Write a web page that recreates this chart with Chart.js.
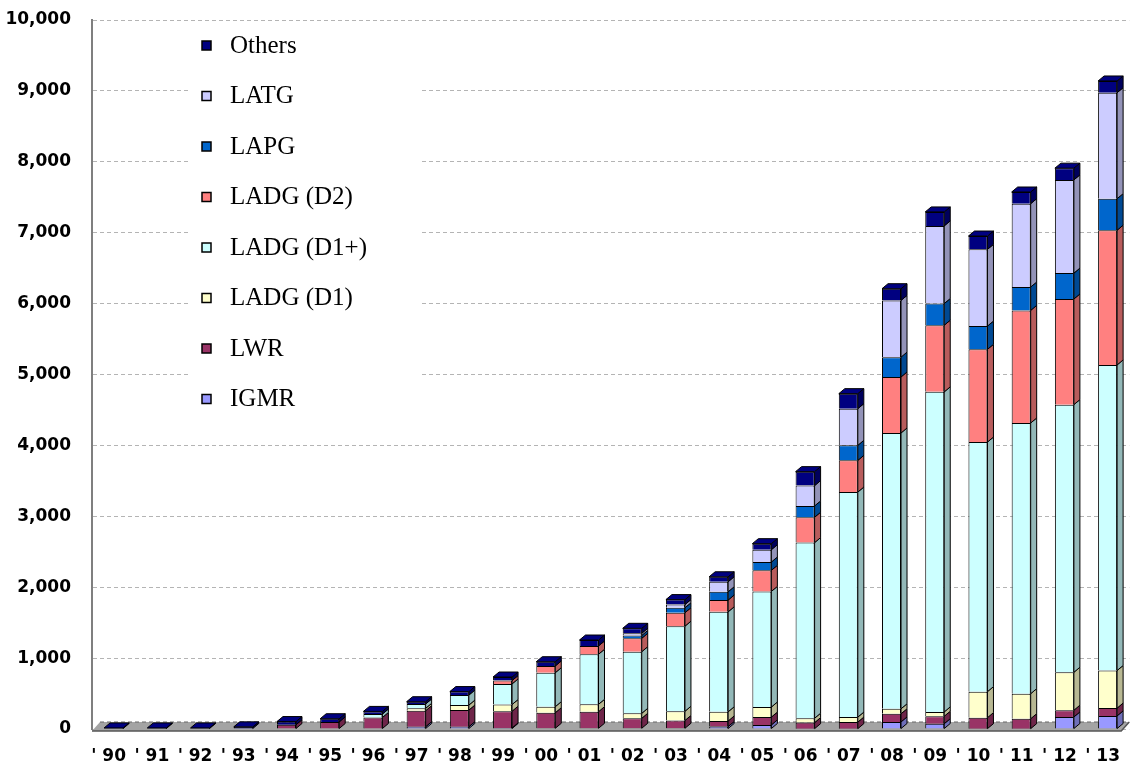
<!DOCTYPE html>
<html>
<head>
<meta charset="utf-8">
<script src="https://cdn.jsdelivr.net/npm/chart.js@4.4.1/dist/chart.umd.min.js"></script>
<style>
  html, body { margin: 0; padding: 0; background: #fff; }
  canvas { display: block; }
</style>
</head>
<body>
<canvas id="chart" width="1134" height="767"></canvas>
<script>
// Fiscal years, '90 through '13
const years = ["' 90","' 91","' 92","' 93","' 94","' 95","' 96","' 97","' 98","' 99",
               "' 00","' 01","' 02","' 03","' 04","' 05","' 06","' 07","' 08","' 09",
               "' 10","' 11","' 12","' 13"];

// Stacked series, bottom to top
const igmr    = [0, 0, 0, 0, 0, 0, 0, 32, 32, 15, 10, 10, 10, 10, 35, 58, 5, 5, 100, 75, 5, 5, 170, 185];
const lwr     = [0, 0, 0, 0, 60, 100, 163, 226, 235, 236, 220, 234, 141, 110, 78, 110, 85, 93, 115, 105, 155, 140, 95, 110];
const ladgD1  = [0, 0, 0, 0, 0, 0, 0, 34, 70, 94, 85, 104, 70, 130, 130, 142, 62, 70, 70, 61, 367, 353, 535, 530];
const ladgD1p = [0, 0, 0, 0, 0, 0, 48, 61, 141, 291, 479, 706, 869, 1200, 1410, 1631, 2477, 3174, 3890, 4514, 3520, 3818, 3775, 4310];
const ladgD2  = [0, 0, 0, 0, 0, 0, 0, 0, 0, 47, 95, 117, 189, 190, 166, 297, 358, 447, 790, 940, 1308, 1588, 1490, 1900];
const lapg    = [0, 0, 0, 0, 0, 0, 0, 0, 0, 0, 0, 0, 40, 70, 117, 117, 159, 212, 280, 306, 328, 330, 365, 445];
const latg    = [0, 0, 0, 0, 0, 0, 0, 0, 0, 0, 0, 0, 31, 45, 141, 174, 287, 517, 800, 1095, 1082, 1175, 1315, 1495];
const others  = [15, 15, 15, 30, 45, 45, 37, 32, 50, 50, 60, 84, 70, 70, 70, 85, 197, 212, 165, 197, 188, 165, 165, 165];

const yTicks = { min: 0, max: 10000, step: 1000 };

function shade(hex, f) {
  const n = parseInt(hex.slice(1), 16);
  const r = Math.round(((n >> 16) & 255) * f);
  const g = Math.round(((n >> 8) & 255) * f);
  const b = Math.round((n & 255) * f);
  return `rgb(${r},${g},${b})`;
}

// Gray floor under the columns
const floorPlugin = {
  id: 'floor',
  beforeDatasetsDraw(chart) {
    const ctx = chart.ctx;
    const { left, right } = chart.chartArea;
    const y0 = chart.scales.y.getPixelForValue(0);
    ctx.save();
    ctx.beginPath();
    ctx.moveTo(left, y0 + 2);
    ctx.lineTo(right - 8, y0 + 2);
    ctx.lineTo(right, y0 - 7);
    ctx.lineTo(left + 8, y0 - 7);
    ctx.closePath();
    ctx.fillStyle = '#a4a4a4';
    ctx.fill();
    ctx.strokeStyle = '#555';
    ctx.lineWidth = 1.5;
    ctx.beginPath();
    ctx.moveTo(left, y0 + 2);
    ctx.lineTo(right - 8, y0 + 2);
    ctx.lineTo(right, y0 - 7);
    ctx.stroke();
    ctx.setLineDash([4, 3]);
    ctx.strokeStyle = '#666';
    ctx.lineWidth = 1;
    ctx.beginPath();
    ctx.moveTo(left + 8, y0 - 7);
    ctx.lineTo(right, y0 - 7);
    ctx.stroke();
    ctx.restore();
  }
};

// Side and top faces give the columns depth
const depthPlugin = {
  id: 'depth',
  afterDatasetsDraw(chart) {
    const ctx = chart.ctx;
    const dx = 6, dy = 5;
    const tops = new Array(chart.data.labels.length).fill(null);
    ctx.save();
    ctx.lineWidth = 1;
    ctx.strokeStyle = '#000';
    chart.data.datasets.forEach((ds, di) => {
      const meta = chart.getDatasetMeta(di);
      meta.data.forEach((el, i) => {
        const p = el.getProps(['x', 'y', 'base', 'width'], true);
        const l = p.x - p.width / 2, r = p.x + p.width / 2;
        const t = Math.min(p.y, p.base), b = Math.max(p.y, p.base);
        if (b - t < 0.3) return;
        ctx.beginPath();
        ctx.moveTo(r, t);
        ctx.lineTo(r + dx, t - dy);
        ctx.lineTo(r + dx, b - dy);
        ctx.lineTo(r, b);
        ctx.closePath();
        ctx.fillStyle = shade(ds.backgroundColor, 0.72);
        ctx.fill();
        ctx.stroke();
        tops[i] = { l, r, t, color: ds.backgroundColor };
      });
    });
    tops.forEach(tp => {
      if (!tp) return;
      ctx.beginPath();
      ctx.moveTo(tp.l, tp.t);
      ctx.lineTo(tp.l + dx, tp.t - dy);
      ctx.lineTo(tp.r + dx, tp.t - dy);
      ctx.lineTo(tp.r, tp.t);
      ctx.closePath();
      ctx.fillStyle = tp.color;
      ctx.fill();
      ctx.stroke();
    });
    ctx.restore();
  }
};

// Legend panel in the upper left of the plot, top series first
const legendPanel = {
  id: 'legendPanel',
  afterDraw(chart) {
    const ctx = chart.ctx;
    ctx.save();
    ctx.fillStyle = '#fff';
    ctx.fillRect(190, 26, 232, 390);
    const items = chart.data.datasets.map(d => ({ label: d.label, color: d.backgroundColor })).reverse();
    ctx.font = '25px "Liberation Serif", serif';
    ctx.textBaseline = 'middle';
    ctx.textAlign = 'left';
    items.forEach((it, k) => {
      const cy = 45 + k * 50.5;
      ctx.fillStyle = it.color;
      ctx.fillRect(202, cy - 4, 9, 9);
      ctx.strokeStyle = '#000';
      ctx.lineWidth = 1.5;
      ctx.strokeRect(202, cy - 4, 9, 9);
      ctx.fillStyle = '#000';
      ctx.fillText(it.label, 230, cy + 1);
    });
    ctx.restore();
  }
};

const series = [
  { label: 'IGMR',        data: igmr,    color: '#9999FF' },
  { label: 'LWR',         data: lwr,     color: '#993366' },
  { label: 'LADG (D1)',   data: ladgD1,  color: '#FFFFCC' },
  { label: 'LADG (D1+)',  data: ladgD1p, color: '#CCFFFF' },
  { label: 'LADG (D2)',   data: ladgD2,  color: '#FF8080' },
  { label: 'LAPG',        data: lapg,    color: '#0066CC' },
  { label: 'LATG',        data: latg,    color: '#CCCCFF' },
  { label: 'Others',      data: others,  color: '#000080' }
];

new Chart(document.getElementById('chart'), {
  type: 'bar',
  data: {
    labels: years,
    datasets: series.map(s => ({
      label: s.label,
      data: s.data,
      backgroundColor: s.color,
      borderColor: '#000',
      borderWidth: 1,
      categoryPercentage: 1,
      barPercentage: 0.44
    }))
  },
  options: {
    responsive: false,
    animation: false,
    devicePixelRatio: 1,
    layout: { padding: { top: 20, right: 0, bottom: 0, left: 0 } },
    plugins: { legend: { display: false }, tooltip: { enabled: false } },
    scales: {
      x: {
        stacked: true,
        grid: { display: false },
        border: { display: false },
        ticks: {
          color: '#000',
          font: { family: 'DejaVu Sans', size: 17, weight: 'bold' },
          padding: 9,
          maxRotation: 0,
          autoSkip: false,
          labelOffset: -5
        },
        afterFit(scale) { scale.height = 38; }
      },
      y: {
        stacked: true,
        min: yTicks.min,
        max: yTicks.max,
        grid: { color: '#b4b4b4', lineWidth: 1, drawTicks: true, tickLength: 21, tickColor: 'rgba(0,0,0,0)' },
        border: { display: true, color: '#7f7f7f', width: 2, dash: [4, 3] },
        ticks: {
          stepSize: yTicks.step,
          padding: 0,
          color: '#000',
          font: { family: 'DejaVu Sans', size: 17, weight: 'bold' },
          callback: v => v.toLocaleString('en-US')
        },
        afterFit(scale) { scale.width = 92; }
      }
    }
  },
  plugins: [floorPlugin, depthPlugin, legendPanel]
});
</script>
</body>
</html>
